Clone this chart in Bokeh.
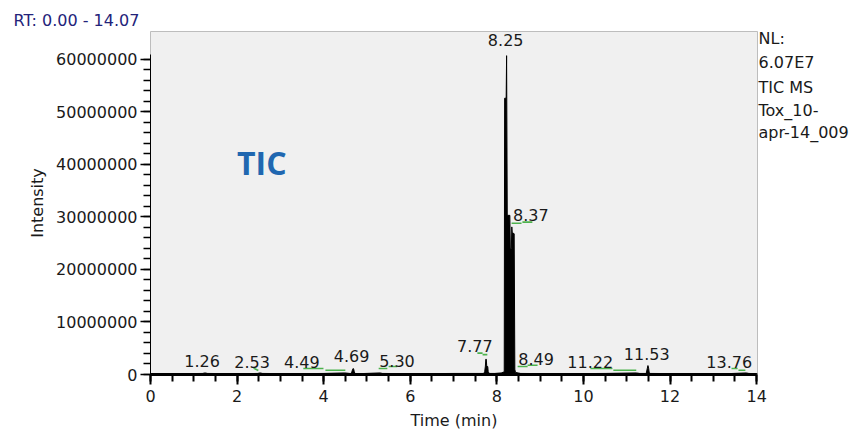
from bokeh.plotting import figure
from bokeh.models import (Range1d, SingleIntervalTicker, BasicTickFormatter, Label, Title,
                          LinearAxis, FixedTicker)
from bokeh.core.properties import value
from bokeh.embed import file_html
from bokeh.resources import INLINE

# ---------------- data ----------------
rt_min = [0.00, 0.60, 1.20, 1.26, 1.32, 2.00, 2.47, 2.53, 2.59, 3.40, 4.00, 4.49, 4.60,
          4.64, 4.665, 4.675, 4.69, 4.705, 4.72, 4.80, 5.30, 5.36, 6.20, 7.00, 7.50,
          7.70, 7.72, 7.735, 7.745, 7.755, 7.765, 7.79, 7.80, 7.83, 7.95,
          8.10, 8.17, 8.18, 8.215, 8.225, 8.24, 8.30, 8.31, 8.335, 8.345, 8.355, 8.40,
          8.415, 8.43, 8.49, 8.55, 9.50, 10.50, 11.22, 11.30, 11.45, 11.475, 11.49,
          11.505, 11.52, 11.55, 12.50, 13.30, 13.76, 13.82, 14.02]
intensity = [0.15e6, 0.15e6, 0.20e6, 0.30e6, 0.20e6, 0.15e6, 0.20e6, 0.30e6, 0.20e6, 0.15e6, 0.20e6, 0.30e6, 0.20e6,
             0.20e6, 0.90e6, 1.10e6, 1.10e6, 0.60e6, 0.20e6, 0.15e6, 0.30e6, 0.20e6, 0.15e6, 0.20e6, 0.20e6,
             0.20e6, 0.60e6, 1.60e6, 2.90e6, 2.90e6, 1.70e6, 1.50e6, 0.50e6, 0.20e6, 0.20e6,
             0.30e6, 0.50e6, 52.6e6, 52.6e6, 60.7e6, 30.3e6, 30.3e6, 24.0e6, 24.0e6, 28.1e6, 27.0e6, 26.8e6,
             1.00e6, 0.40e6, 0.30e6, 0.20e6, 0.15e6, 0.20e6, 0.30e6, 0.20e6, 0.20e6, 1.20e6, 1.70e6,
             1.20e6, 0.30e6, 0.20e6, 0.15e6, 0.15e6, 0.30e6, 0.20e6, 0.15e6]

peak_labels = ["1.26", "2.53", "4.49", "4.69", "5.30", "7.77", "8.25", "8.37", "8.49", "11.22", "11.53", "13.76"]
peak_rt = [1.26, 2.53, 4.49, 4.69, 5.30, 7.77, 8.25, 8.37, 8.49, 11.22, 11.53, 13.76]
label_level = [2.52e6, 2.46e6, 2.46e6, 3.46e6, 2.65e6, 5.36e6, 63.6e6, 30.4e6, 3.03e6, 2.46e6, 3.98e6, 2.46e6]
label_dx = [-3, -8, -43, -2, 17, -12, -2, 18, 18, -46, -3, -17]

# integration baselines (green)
base_t0 = [2.38, 3.53, 4.04, 5.27, 5.50, 7.55, 7.67, 8.34, 8.59, 8.48, 8.71, 10.16, 10.69, 13.42, 13.58]
base_t1 = [2.49, 3.995, 4.50, 5.47, 5.70, 7.67, 7.78, 8.57, 8.82, 8.71, 8.94, 10.67, 11.22, 13.56, 13.74]
base_i0 = [1.23e6, 1.14e6, 0.81e6, 1.14e6, 1.52e6, 4.07e6, 3.79e6, 28.8e6, 29.0e6, 1.52e6, 1.76e6, 1.14e6, 0.81e6, 1.14e6, 0.81e6]
base_i1 = [0.76e6, 1.14e6, 0.81e6, 1.14e6, 1.52e6, 4.07e6, 3.79e6, 28.8e6, 29.0e6, 1.52e6, 1.76e6, 1.14e6, 0.81e6, 1.14e6, 0.81e6]

header_text = "RT: 0.00 - 14.07"
info_lines = ["NL:", "6.07E7", "TIC  MS", "Tox_10-", "apr-14_009"]
info_rows = [38, 62, 87, 110, 133]  # row centres, in pixels below the page top

rt_start, rt_end = 0.0, 14.02
y_top = 65.3e6
FONT = "DejaVu Sans"
TXT = "#1a1a1a"

# ---------------- figure ----------------
p = figure(width=851, height=432, output_backend="svg", toolbar_location=None,
           x_range=Range1d(rt_start, rt_end), y_range=Range1d(0, y_top),
           min_border_left=150, min_border_right=94, min_border_top=31, min_border_bottom=56)
p.background_fill_color = "#F0F0F0"
p.border_fill_color = "white"
p.outline_line_color = "#BDBDBD"
p.grid.visible = False

p.xaxis.ticker = SingleIntervalTicker(interval=2, num_minor_ticks=4)
p.yaxis.ticker = SingleIntervalTicker(interval=10000000, num_minor_ticks=5)
p.yaxis.formatter = BasicTickFormatter(use_scientific=False)
p.xaxis.bounds = (0, 14)
p.yaxis.bounds = (0, 61e6)
for ax in (p.xaxis, p.yaxis):
    ax.major_label_text_font = FONT
    ax.major_label_text_font_size = "16px"
    ax.major_label_text_color = TXT
    ax.axis_label_text_font = FONT
    ax.axis_label_text_font_size = "16px"
    ax.axis_label_text_font_style = "normal"
    ax.axis_label_text_color = TXT
    ax.major_tick_in = 0
    ax.minor_tick_in = 0
    ax.major_tick_out = 10
    ax.minor_tick_out = 7
    ax.axis_line_color = "black"
    ax.major_tick_line_color = "black"
    ax.minor_tick_line_color = "black"
p.xaxis.axis_line_width = 3
p.xaxis.major_tick_line_width = 2
p.xaxis.minor_tick_line_width = 2
p.yaxis.axis_line_width = 1
p.yaxis.major_tick_line_width = 1.5
p.yaxis.minor_tick_line_width = 1.5
p.xaxis.axis_label = "Time (min)"
p.yaxis.axis_label = "Intensity"
p.xaxis.major_label_standoff = 5
p.xaxis.axis_label_standoff = 6
p.yaxis.major_label_standoff = 3
p.yaxis.axis_label_standoff = 6

# header "RT: 0.00 - 14.07"
p.add_layout(Title(text=header_text, align="left", offset=-137, standoff=3,
                   text_font=FONT, text_font_size="16px", text_font_style="normal",
                   text_color="#23237a"), "above")

# right-hand info block, drawn as labels of a bare axis on a pixel-row range
p.extra_y_ranges = {"rows": Range1d(start=376, end=31)}
info_axis = LinearAxis(y_range_name="rows", ticker=FixedTicker(ticks=info_rows),
                       major_label_overrides={r: t for r, t in zip(info_rows, info_lines)})
info_axis.axis_line_color = None
info_axis.major_tick_line_color = None
info_axis.minor_tick_line_color = None
info_axis.major_tick_out = 0
info_axis.major_tick_in = 0
info_axis.major_label_standoff = 1
info_axis.major_label_text_font = FONT
info_axis.major_label_text_font_size = "16px"
info_axis.major_label_text_color = TXT
p.add_layout(info_axis, "right")

# chromatogram
p.varea(x=rt_min, y1=0, y2=intensity, fill_color="black")
p.line(rt_min, intensity, line_color="black", line_width=1)
p.segment(x0=base_t0, y0=base_i0, x1=base_t1, y1=base_i1, line_color="#4DB24D", line_width=1.6)
p.text(x=peak_rt, y=label_level, text=peak_labels, x_offset=label_dx,
       text_font=value(FONT), text_font_size="16px", text_color=TXT,
       text_align="center", text_baseline="middle")
p.add_layout(Label(x=2.0, y=40.3e6, text="TIC", text_font="Open Sans", text_font_style="bold",
                   text_font_size="32px", text_color="#2067B0", text_align="left",
                   text_baseline="alphabetic"))

open("out.html", "w").write(file_html(p, INLINE))
